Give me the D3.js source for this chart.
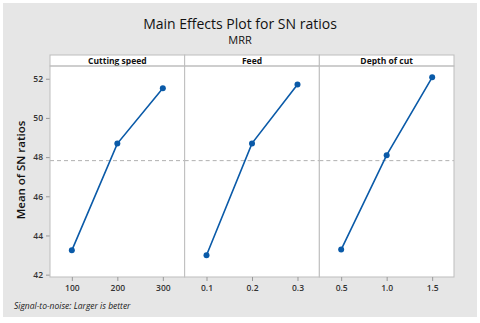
<!DOCTYPE html>
<html>
<head>
<meta charset="utf-8">
<script src="https://cdn.jsdelivr.net/npm/d3@7"></script>
<style>
  body { margin: 0; background: #fff; }
  svg { display: block; font-family: "Open Sans", "Noto Sans", sans-serif; }
</style>
</head>
<body>
<div id="chart"></div>
<script>
// factors and levels
var factors = ['Cutting speed', 'Feed', 'Depth of cut'];
var speedLevels = ['100', '200', '300'];
var feedLevels = ['0.1', '0.2', '0.3'];
var depthLevels = ['0.5', '1.0', '1.5'];

// mean SN ratios for each level
var speedSN = [43.24, 48.69, 51.51];
var feedSN = [42.99, 48.70, 51.71];
var depthSN = [43.28, 48.10, 52.07];

var yTicks = [42, 44, 46, 48, 50, 52];
var grandMean = 47.82;

var levels = [speedLevels, feedLevels, depthLevels];
var values = [speedSN, feedSN, depthSN];

var W = 480, H = 323;
var plotL = 50, plotR = 454, plotT = 55, stripH = 11, plotB = 277;

var svg = d3.select('#chart').append('svg')
    .attr('width', W)
    .attr('height', H);

// grey backdrop
svg.append('rect')
    .attr('x', 3).attr('y', 3)
    .attr('width', 474).attr('height', 314)
    .attr('fill', '#e6e6e6');

svg.append('text')
    .attr('x', 240).attr('y', 29)
    .attr('text-anchor', 'middle')
    .attr('font-size', 14)
    .attr('fill', '#111')
    .text('Main Effects Plot for SN ratios');

svg.append('text')
    .attr('x', 240).attr('y', 43.5)
    .attr('text-anchor', 'middle')
    .attr('font-size', 11)
    .attr('fill', '#111')
    .text('MRR');

var y = d3.scaleLinear()
    .domain([41.88, 52.65])
    .range([plotB, plotT + stripH]);

var panelW = (plotR - plotL) / factors.length;

// y axis
var yAxis = svg.append('g')
    .attr('transform', 'translate(' + plotL + ',0)')
    .call(d3.axisLeft(y).tickValues(yTicks).tickSize(4).tickPadding(3));
yAxis.select('.domain').remove();
yAxis.selectAll('line').attr('stroke', '#999');
yAxis.selectAll('text')
    .attr('font-size', 8.5)
    .attr('font-family', '"Open Sans", sans-serif')
    .attr('font-weight', 600)
    .attr('fill', '#333');

svg.append('text')
    .attr('transform', 'translate(25,' + ((plotT + plotB) / 2 + 4) + ') rotate(-90)')
    .attr('text-anchor', 'middle')
    .attr('font-size', 11.5)
    .attr('font-weight', 600)
    .attr('fill', '#111')
    .text('Mean of SN ratios');

factors.forEach(function (name, k) {
    var x0 = plotL + k * panelW;
    var g = svg.append('g').attr('transform', 'translate(' + x0 + ',0)');

    var x = d3.scalePoint()
        .domain(levels[k])
        .range([0, panelW])
        .padding(0.48);

    g.append('rect')
        .attr('x', 0).attr('y', plotT + stripH)
        .attr('width', panelW).attr('height', plotB - plotT - stripH)
        .attr('fill', '#fff');

    // strip
    g.append('rect')
        .attr('x', 0).attr('y', plotT)
        .attr('width', panelW).attr('height', stripH)
        .attr('fill', '#fff')
        .attr('stroke', '#bdbdbd');
    g.append('text')
        .attr('x', panelW / 2).attr('y', plotT + 8.5)
        .attr('text-anchor', 'middle')
        .attr('font-size', 8.5)
        .attr('font-weight', 700)
        .attr('fill', '#111')
        .text(name);

    // reference line
    g.append('line')
        .attr('x1', 0).attr('x2', panelW)
        .attr('y1', y(grandMean)).attr('y2', y(grandMean))
        .attr('stroke', '#b0b0b0')
        .attr('stroke-dasharray', '4,3');

    g.append('rect')
        .attr('x', 0).attr('y', plotT + stripH)
        .attr('width', panelW).attr('height', plotB - plotT - stripH)
        .attr('fill', 'none')
        .attr('stroke', '#bdbdbd');

    var xAxis = g.append('g')
        .attr('transform', 'translate(0,' + plotB + ')')
        .call(d3.axisBottom(x).tickSize(4).tickPadding(4));
    xAxis.select('.domain').remove();
    xAxis.selectAll('line').attr('stroke', '#999');
    xAxis.selectAll('text')
        .attr('font-size', 8.5)
        .attr('font-family', '"Open Sans", sans-serif')
        .attr('font-weight', 600)
        .attr('fill', '#333');

    var pts = levels[k].map(function (l, i) { return { lev: l, v: values[k][i] }; });

    g.append('path')
        .datum(pts)
        .attr('fill', 'none')
        .attr('stroke', '#0a5aa8')
        .attr('stroke-width', 1.6)
        .attr('d', d3.line()
            .x(function (d) { return x(d.lev); })
            .y(function (d) { return y(d.v); }));

    g.selectAll('circle').data(pts).enter()
        .append('circle')
        .attr('cx', function (d) { return x(d.lev); })
        .attr('cy', function (d) { return y(d.v); })
        .attr('r', 3)
        .attr('fill', '#0a5aa8');
});

svg.append('text')
    .attr('x', 14).attr('y', 309)
    .attr('font-size', 8.5)
    .attr('font-style', 'italic')
    .attr('fill', '#1a1a1a')
    .text('Signal-to-noise: Larger is better');
</script>
</body>
</html>
